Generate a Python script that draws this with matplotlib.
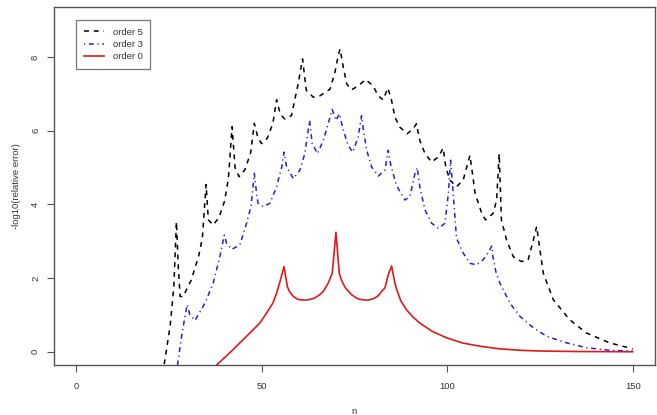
import matplotlib
matplotlib.use("Agg")
import matplotlib.pyplot as plt


# values (n, -log10(relative error))
n_order5 = [23.3, 25.3, 26.3, 27.0, 27.5, 28.0, 28.8, 31.0, 33.0, 34.0, 35.0, 35.6, 36.9,
            38.5, 40.0, 41.0, 42.0, 42.8, 43.9, 45.5, 47.0, 48.0, 49.0, 50.0, 51.5, 53.0,
            54.0, 55.0, 56.2, 58.0, 59.8, 61.0, 62.0, 63.9, 65.7, 68.4, 69.7, 70.6, 71.1,
            72.0, 72.9, 74.2, 76.0, 78.0, 80.0, 81.4, 82.7, 84.0, 85.0, 85.9, 87.2, 89.2,
            90.8, 91.7, 92.6, 94.0, 95.8, 97.6, 98.9, 99.6, 100.7, 102.5, 104.3, 106.1,
            106.8, 107.5, 109.3, 110.3, 112.4, 113.3, 114.0, 114.6, 116.0, 117.8, 120.0,
            121.8, 123.2, 124.1, 125.0, 125.9, 128.6, 133.0, 137.5, 143.8, 150.0]
y_order5 = [-0.6, 0.69, 1.77, 3.53, 2.31, 1.5, 1.5, 1.95, 2.6, 3.1, 4.54, 3.58, 3.44,
            3.65, 4.1, 4.7, 6.11, 5.0, 4.75, 4.95, 5.4, 6.2, 5.8, 5.65, 5.8, 6.2,
            6.84, 6.45, 6.32, 6.41, 7.27, 7.95, 7.1, 6.91, 6.95, 7.13, 7.58, 8.03, 8.22,
            7.72, 7.27, 7.11, 7.22, 7.39, 7.22, 6.95, 6.84, 7.16, 6.82, 6.37, 6.1, 5.92,
            6.05, 6.19, 5.74, 5.38, 5.15, 5.29, 5.53, 5.02, 4.66, 4.48, 4.66, 5.33,
            4.84, 4.3, 3.76, 3.58, 3.76, 4.12, 5.38, 3.58, 3.03, 2.58, 2.45,
            2.49, 3.03, 3.4, 2.76, 2.13, 1.41, 0.87, 0.51, 0.24, 0.08]

n_order3 = [27.1, 28.4, 29.3, 29.9, 30.6, 32.0, 34.7, 36.9, 38.7, 39.9, 40.5, 41.9, 44.1,
            45.9, 47.1, 48.0, 48.6, 49.0, 50.4, 52.2, 54.0, 55.4, 56.0, 56.7, 58.5, 60.3,
            61.6, 62.9, 63.6, 65.0, 66.6, 67.9, 69.0, 70.0, 70.9, 72.0, 73.3, 74.5, 76.0,
            76.9, 77.4, 78.3, 79.6, 81.4, 83.2, 84.1, 84.7, 85.9, 86.5, 88.6, 89.9, 91.3,
            91.9, 92.6, 94.0, 95.8, 97.6, 99.4, 100.3, 100.9, 101.6, 102.5, 104.3, 106.1,
            107.9, 109.7, 111.0, 112.0, 112.3, 113.2, 114.2, 116.9, 119.6, 123.2, 126.8,
            132.2, 137.5, 143.8, 150.0]
y_order3 = [-0.5, 0.42, 0.96, 1.28, 1.01, 0.85, 1.32, 1.86, 2.58, 3.17, 2.95, 2.78, 2.9,
            3.49, 3.94, 4.84, 4.3, 4.03, 3.94, 4.03, 4.48, 5.02, 5.42, 5.02, 4.7, 4.93,
            5.38, 6.28, 5.65, 5.38, 5.74, 6.19, 6.58, 6.28, 6.46, 6.01, 5.6, 5.42, 5.83,
            6.41, 6.01, 5.47, 5.02, 4.77, 4.93, 5.47, 5.11, 4.66, 4.48, 4.12, 4.21, 4.84,
            5.0, 4.48, 3.85, 3.49, 3.35, 3.49, 4.3, 5.2, 4.3, 3.08, 2.68, 2.4,
            2.36, 2.5, 2.68, 2.87, 2.58, 2.13, 1.86, 1.32, 0.96, 0.65, 0.42,
            0.24, 0.11, 0.04, 0.02]

n_order0 = [37.2, 42.3, 46.8, 49.5, 51.3, 53.0, 54.0, 54.9, 56.0, 56.9, 57.5, 58.5, 59.8,
            61.6, 63.0, 64.3, 65.5, 66.6, 67.9, 69.0, 70.0, 70.9, 71.5, 72.5, 74.2, 75.5,
            76.5, 78.3, 79.5, 80.5, 81.5, 82.3, 83.2, 84.1, 85.0, 85.9, 86.4, 87.5, 89.0,
            90.8, 92.6, 94.5, 96.0, 99.8, 104.0, 108.8, 114.0, 119.5, 125.0, 135.0, 150.0]
y_order0 = [-0.42, 0.06, 0.51, 0.78, 1.05, 1.32, 1.59, 1.9, 2.31, 1.77, 1.63, 1.5, 1.42,
            1.40, 1.42, 1.46, 1.54, 1.64, 1.86, 2.13, 3.24, 2.13, 1.94, 1.74, 1.55, 1.46,
            1.42, 1.40, 1.42, 1.46, 1.53, 1.64, 1.73, 2.09, 2.33, 1.86, 1.68, 1.38, 1.14,
            0.94, 0.78, 0.65, 0.55, 0.38, 0.24, 0.15, 0.08, 0.04, 0.02, 0.006, 0.0]

x_ticks = [0, 50, 100, 150]
y_ticks = [0, 2, 4, 6, 8]

plt.rcParams["font.family"] = ["Liberation Sans", "DejaVu Sans"]
frame_col = "#555555"

fig = plt.figure(figsize=(6.57, 4.15), dpi=100)
ax = fig.add_axes([54 / 657, 50 / 415, 601 / 657, 358 / 415])

ax.plot(n_order5, y_order5, color="black", lw=1.1, dashes=(3.2, 3.2), label="order 5")
ax.plot(n_order3, y_order3, color="#2020e0", lw=1.1, dashes=(0.8, 2.4, 3.2, 2.4), label="order 3")
ax.plot(n_order0, y_order0, color="#e01a1a", lw=1.2, label="order 0")

# R style limits: 4% padding around data range
ax.set_xlim(-6, 156)
ax.set_ylim(-0.36, 9.36)
ax.set_xticks(x_ticks)
ax.set_yticks(y_ticks)
ax.tick_params(axis="both", length=5, width=0.8, color=frame_col, labelsize=6.8,
               labelcolor="#333333")
ax.tick_params(axis="x", pad=7)
ax.tick_params(axis="y", pad=5)
for lab in ax.get_yticklabels():
    lab.set_rotation(90)
    lab.set_va("center")
for spine in ax.spines.values():
    spine.set_color(frame_col)
    spine.set_linewidth(1.0)

ax.set_xlabel("n", fontsize=6.8, color="#333333", labelpad=12)
ax.set_ylabel("-log10(relative error)", fontsize=6.8, color="#333333", labelpad=7)

leg = ax.legend(loc="upper left", bbox_to_anchor=(76 / 657, 1 - 20 / 415),
                bbox_transform=fig.transFigure, borderaxespad=0, fancybox=False,
                fontsize=6.8, handlelength=2.2, handletextpad=0.9, labelspacing=0.35,
                borderpad=0.8)
leg.get_frame().set_edgecolor(frame_col)
leg.get_frame().set_linewidth(0.9)
for txt in leg.get_texts():
    txt.set_color("#333333")

fig.savefig("out.png", dpi=100)
